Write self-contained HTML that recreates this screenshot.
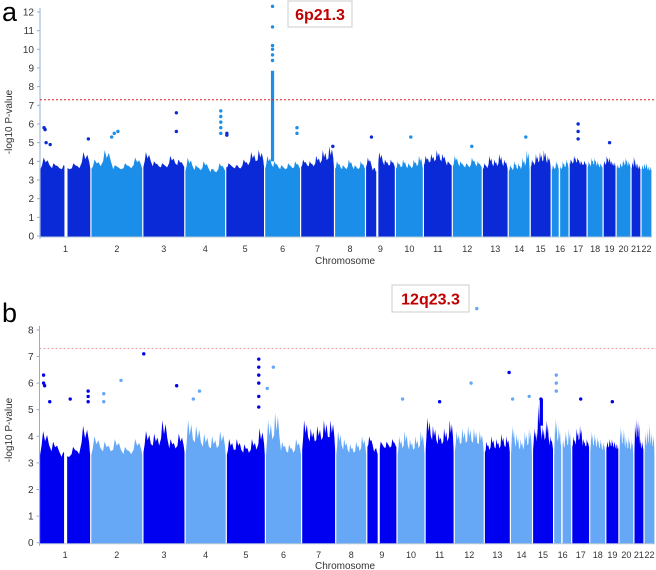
<!DOCTYPE html>
<html><head><meta charset="utf-8">
<style>
body{margin:0;background:#fff;}
svg{display:block;font-family:"Liberation Sans",sans-serif;}
</style></head>
<body>
<svg id="chart" width="656" height="570" viewBox="0 0 656 570" xmlns="http://www.w3.org/2000/svg"></svg>
<script>
const chromosomes = ['1','2','3','4','5','6','7','8','9','10','11','12','13','14','15','16','17','18','19','20','21','22'];
const chrLen = [51,52,42,41,39,36,34,31,30,28,29,30,26,22,21,18,18,16,13,15,10,11];
const gaps = [[0,0.48,0.54],[8,0.36,0.43],[15,0.42,0.5]];
// panel a
const bulkA = [3.3,3.3,3.4,3.2,3.4,3.3,3.4,3.3,3.4,3.3,3.5,3.4,3.3,3.2,3.4,3.3,3.6,3.4,3.6,3.4,3.3,3.3];
const skyA = [
 [4.2,3.9,3.8,3.9,4.5],[4.1,4.6,3.8,3.9,4.2],[4.5,4.0,3.9,4.3,4.1],[4.2,3.8,4.0,3.6,3.9],[3.9,3.8,4.1,4.5,4.6],
 [4.3,4.0,3.8,3.9,4.0],[4.1,4.0,4.3,4.6,4.8],[4.0,3.8,4.1,3.8,4.0],[4.2,3.6,4.5,4.1,4.1],[4.0,4.1,3.9,4.1,4.3],
 [4.3,4.4,4.6,4.4,4.0],[4.3,4.0,3.9,4.2,4.0],[3.9,4.3,4.1,4.4,4.1],[3.8,4.0,3.9,4.2,4.6],[4.1,4.4,4.5,4.6,4.3],
 [3.8,4.0,3.8,4.0,4.1],[4.1,4.3,4.2,4.0,4.0],[4.0,4.2,4.2,4.0,3.9],[4.0,4.3,4.2,4.0,3.9],[3.8,3.9,4.1,4.2,4.0],
 [4.0,4.3,4.0,3.9,3.8],[3.8,3.9,3.9,3.7,3.7]];
const hitsA = [[0,0.08,5.8],[0,0.1,5.7],[0,0.12,5.0],[0,0.2,4.9],[0,0.95,5.2],[1,0.45,5.5],[1,0.52,5.6],[1,0.4,5.3],
 [2,0.8,6.6],[2,0.8,5.6],[3,0.88,6.7],[3,0.88,6.4],[3,0.88,6.1],[3,0.88,5.8],[3,0.88,5.5],[4,0.03,5.5],[4,0.03,5.4],
 [5,0.22,9.4],[5,0.22,9.7],[5,0.22,10.0],[5,0.22,10.2],[5,0.22,11.2],[5,0.22,12.3],[5,0.9,5.8],[5,0.9,5.5],
 [6,0.95,4.8],[9,0.55,5.3],[8,0.2,5.3],[11,0.65,4.8],[13,0.8,5.3],[16,0.5,6.0],[16,0.5,5.6],[16,0.5,5.2],[18,0.5,5.0]];
const colsA = [[5,0.22,4.0,8.85]];
// panel b
const bulkB = [3.0,3.0,3.1,3.0,3.0,3.0,3.2,3.0,3.3,3.0,3.2,3.1,3.1,3.0,3.2,3.0,3.3,3.1,3.3,3.0,3.2,3.0];
const skyB = [
 [4.2,3.8,3.4,3.6,4.4],[4.0,3.8,3.9,3.6,3.9],[4.2,4.1,4.6,3.9,4.1],[4.6,4.4,4.1,4.0,4.2],[3.9,3.9,3.7,3.9,4.3],
 [4.6,4.9,3.8,3.7,3.9],[4.6,4.3,4.4,4.6,4.6],[4.2,3.9,3.7,3.8,4.0],[4.0,3.5,3.8,3.8,3.9],[4.0,4.2,3.9,4.0,4.2],
 [4.7,4.4,4.1,4.3,4.6],[4.2,4.3,4.4,4.3,4.2],[3.8,4.0,3.9,4.1,4.0],[4.4,4.1,3.9,4.2,4.3],[4.3,5.2,4.4,4.6,4.0],
 [4.7,4.4,4.0,4.2,4.3],[4.0,4.3,4.4,3.9,3.9],[4.2,4.1,4.0,3.9,3.8],[3.8,3.9,3.9,3.8,3.7],[4.4,4.3,4.0,4.0,3.9],
 [4.5,4.7,4.6,3.9,3.8],[4.2,4.3,4.5,4.2,4.1]];
const hitsB = [[0,0.08,6.3],[0,0.08,6.0],[0,0.1,5.9],[0,0.2,5.3],[0,0.6,5.4],[0,0.95,5.7],[0,0.95,5.5],[0,0.95,5.3],
 [1,0.58,6.1],[1,0.25,5.6],[1,0.25,5.3],[2,0.02,7.1],[2,0.8,5.9],[3,0.35,5.7],[3,0.2,5.4],[4,0.83,6.9],[4,0.83,6.6],
 [4,0.83,6.3],[4,0.83,6.0],[4,0.83,5.5],[4,0.83,5.1],[5,0.22,6.6],[5,0.05,5.8],[9,0.2,5.4],[10,0.5,5.3],[11,0.56,6.0],
 [11,0.75,8.8],[12,0.95,6.4],[13,0.1,5.4],[13,0.85,5.5],[14,0.4,5.4],[15,0.15,6.3],[15,0.15,6.0],[15,0.15,5.7],[16,0.5,5.4],[18,0.5,5.3]];
const colsB = [[14,0.42,4.4,5.4]];

const NS='http://www.w3.org/2000/svg';
const svg=document.getElementById('chart');
const total=chrLen.reduce((a,b)=>a+b,0);
function mk(tag,attrs,parent){const e=document.createElementNS(NS,tag);for(const k in attrs)e.setAttribute(k,attrs[k]);(parent||svg).appendChild(e);return e;}

function panel(P){
  const g=mk('g',{});
  
  
  const xs=v=>P.x0+v*(P.x1-P.x0)/total;
  const ys=v=>P.y0-v*P.k;
  const starts=[];let c=0;chrLen.forEach(l=>{starts.push(c);c+=l;});
  const X=(ci,f)=>xs(starts[ci]+f*chrLen[ci]);
  chromosomes.forEach((ch,i)=>{
    const col=i%2?P.light:P.dark;
    const cg=mk('g',{fill:col},g);
    
    
    const a=X(i,0)+0.6,b=X(i,1)-0.6;
    const n=P.sky[i].length,w=(b-a)/n;
    let pts=[[a,ys(0)+1],[a,ys(P.bulk[i]+0.3)]];
    P.sky[i].forEach((v,j)=>{
      const lo=P.bulk[i]+(v-P.bulk[i])*0.55;
      pts.push([a+j*w+w*0.15,ys(lo)]);
      pts.push([a+j*w+w*0.3,ys(v)]);
      pts.push([a+j*w+w*0.5,ys(lo+0.15)]);
      pts.push([a+j*w+w*0.7,ys(v-0.15)]);
      pts.push([a+j*w+w*0.9,ys(lo)]);
    });
    pts.push([b,ys(P.bulk[i]+0.3)],[b,ys(0)+1]);
    mk('polygon',{points:pts.map(p=>p[0].toFixed(1)+','+p[1].toFixed(1)).join(' ')},cg);
    gaps.forEach(gp=>{if(gp[0]===i){const ga=X(i,gp[1]),gb=X(i,gp[2]);mk('rect',{x:ga,y:ys(P.ymax),width:gb-ga,height:ys(0)-ys(P.ymax)+1,fill:'#fff'},cg);}});
    const t=mk('text',{x:X(i,0.5),y:P.labY,'font-size':9,'text-anchor':'middle',fill:'#333'},g);
    t.textContent=ch;
    
    
  });
  P.cols.forEach(cc=>{
    const r=mk('rect',{x:X(cc[0],cc[1])-1.6,y:ys(cc[3]),width:3.2,height:ys(cc[2])-ys(cc[3]),fill:cc[0]%2?P.light:P.dark},g);
    
    
  });
  P.hits.forEach(h=>{
    const d=mk('circle',{cx:X(h[0],h[1]),cy:ys(h[2]),r:1.7,fill:h[0]%2?P.light:P.dark},g);
    
    
  });
  const ya=mk('line',{x1:P.x0,y1:ys(P.ymax)-4,x2:P.x0,y2:ys(0)+3,stroke:'#8fb0d0','stroke-width':1},g);
  
  const xa=mk('line',{x1:P.x0,y1:ys(0)+1,x2:P.x1,y2:ys(0)+1,stroke:'#b8c8d8','stroke-width':1},g);
  
  for(let v=0;v<=P.ymax;v++){
    mk('line',{x1:P.x0-3,x2:P.x0,y1:ys(v),y2:ys(v),stroke:'#8fb0d0'},g);
    const t=mk('text',{x:P.x0-6,y:ys(v)+3.5,'font-size':10,'text-anchor':'end',fill:'#333'},g);
    t.textContent=v;
    
    
  }
  const th=mk('line',{x1:P.x0,x2:P.x1+3,y1:ys(7.3),y2:ys(7.3),stroke:P.thr,'stroke-width':1,'stroke-dasharray':P.dash},g);
  
  const yt=mk('text',{x:0,y:0,'font-size':10,'text-anchor':'middle',fill:'#333',transform:`translate(${P.ytX},${P.ytY}) rotate(-90)`},g);
  yt.textContent='-log10 P-value';
  
  const xt=mk('text',{x:345,y:P.xtY,'font-size':10,'text-anchor':'middle',fill:'#333'},g);
  xt.textContent='Chromosome';
  
  const pl=mk('text',{x:2,y:P.letterY,'font-size':27,fill:'#000'},g);
  pl.textContent=P.letter;
  
  const bx=mk('rect',{x:P.box[0],y:P.box[1],width:P.box[2],height:P.box[3],fill:'#fff',stroke:'#ccc'},g);
  
  const bt=mk('text',{x:P.box[0]+P.box[2]/2,y:P.box[1]+P.box[3]/2+6,'font-size':16,'font-weight':'bold','text-anchor':'middle',fill:'#c00000'},g);
  bt.textContent=P.locus;
  
}
panel({name:'panel-a',x0:40,x1:652,y0:236,k:18.67,ymax:12,bulk:bulkA,sky:skyA,hits:hitsA,cols:colsA,
  dark:'#0a2ad8',light:'#1a8ee8',thr:'#e02020',dash:'2,2',labY:252,xtY:264,ytX:12,ytY:122,letterY:21,letter:'a',
  box:[288,1,64,26],locus:'6p21.3'});
panel({name:'panel-b',x0:39.5,x1:655,y0:542.7,k:26.6,ymax:8,bulk:bulkB,sky:skyB,hits:hitsB,cols:colsB,
  dark:'#0000f0',light:'#66a8f5',thr:'#f4a0a0',dash:'2,2',labY:558,xtY:569,ytX:12,ytY:430,letterY:322,letter:'b',
  box:[392,285,77,27],locus:'12q23.3'});
</script>
</body></html>
